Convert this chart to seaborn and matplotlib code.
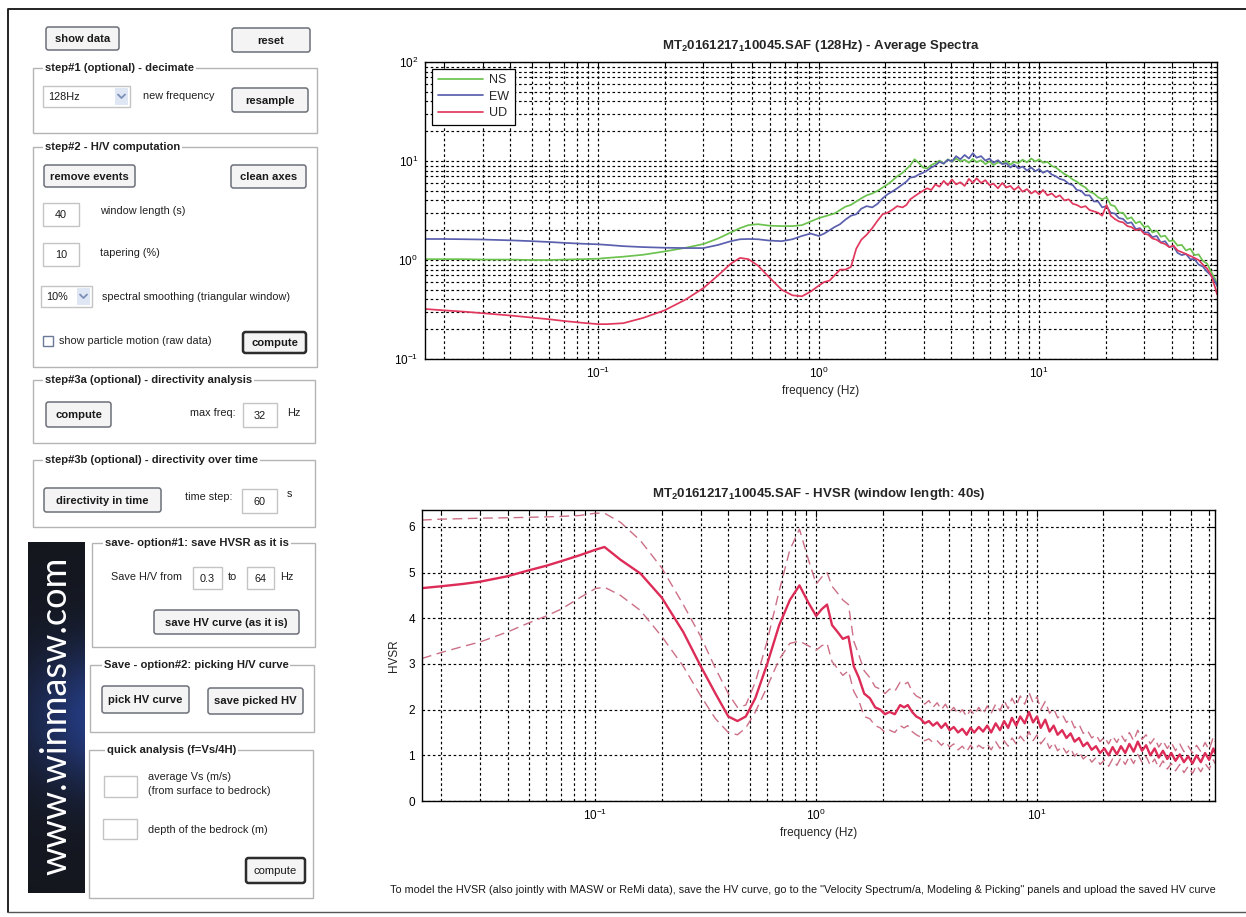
import numpy as np
import pandas as pd
import matplotlib
matplotlib.use("Agg")
import matplotlib.pyplot as plt
import seaborn as sns
from matplotlib import font_manager
from matplotlib.patches import Rectangle, FancyBboxPatch
from matplotlib.ticker import LogLocator, NullFormatter, FixedLocator

# ---------------------------------------------------------------- data
FREQ = (
    [0.0164, 0.02, 0.025, 0.03, 0.04, 0.05, 0.06, 0.07, 0.085, 0.1,
     0.11, 0.13, 0.16, 0.2, 0.25, 0.3, 0.35, 0.4, 0.44, 0.48,
     0.53, 0.6, 0.68, 0.76, 0.84, 0.92, 1.0]
    + [1.06, 1.12, 1.18, 1.25, 1.32, 1.4, 1.48, 1.56, 1.65, 1.75,
       1.85, 1.95, 2.05, 2.15, 2.27, 2.4]
    + [2.5, 2.6, 2.72, 2.84, 2.97, 3.1, 3.24, 3.38, 3.53, 3.69,
       3.85, 4.02, 4.2, 4.39, 4.59, 4.8, 5.0, 5.2, 5.45, 5.7,
       5.95, 6.2, 6.5, 6.8, 7.1, 7.4, 7.7, 8.05, 8.4, 8.8,
       9.2, 9.6, 10.0, 10.4, 10.9, 11.4, 11.9, 12.4, 13.0, 13.6,
       14.2, 14.8, 15.5, 16.2, 16.9, 17.7, 18.5, 19.3, 20.2, 21.1,
       22.0, 23.0, 24.0, 25.1, 26.2, 27.4, 28.6, 29.9, 31.2, 32.6,
       34.1, 35.6, 37.2, 38.9, 40.6, 42.4, 44.3, 46.3, 48.4, 50.6,
       52.8, 55.2, 57.7, 60.2, 62.9, 64.0]
)

# average amplitude spectra of the three components
SPEC_NS = (
    [1.02, 1.02, 1.02, 1.01, 1.01, 1.0, 1.0, 1.01, 1.02, 1.03,
     1.05, 1.08, 1.13, 1.22, 1.33, 1.45, 1.65, 1.9, 2.1, 2.25,
     2.3, 2.22, 2.2, 2.2, 2.25, 2.45, 2.65]
    + [2.75, 2.85, 2.95, 3.2, 3.45, 3.6, 3.9, 4.2, 4.5, 4.7,
       5.0, 5.4, 5.8, 6.3, 7.0, 7.6]
    + [8.3, 9.0, 10.4, 9.6, 8.6, 8.4, 9.1, 9.5, 10.1, 9.4,
       10.4, 9.8, 10.6, 9.9, 10.3, 9.6, 10.5, 9.7, 10.2, 9.3,
       9.9, 9.1, 9.7, 9.4, 10.0, 9.2, 9.8, 9.5, 10.3, 9.7,
       10.6, 9.9, 10.4, 9.6, 9.8, 8.9, 8.6, 8.0, 7.4, 7.0,
       6.5, 6.2, 5.7, 5.4, 4.9, 4.7, 4.3, 4.1, 4.3, 3.6,
       3.5, 3.0, 3.0, 2.6, 2.7, 2.35, 2.45, 2.15, 2.2, 1.9,
       1.98, 1.72, 1.76, 1.55, 1.58, 1.4, 1.42, 1.25, 1.3, 1.12,
       1.14, 0.98, 0.92, 0.76, 0.64, 0.55]
)
SPEC_EW = (
    [1.63, 1.63, 1.62, 1.61, 1.58, 1.55, 1.52, 1.49, 1.46, 1.44,
     1.42, 1.38, 1.35, 1.33, 1.32, 1.32, 1.42, 1.55, 1.62, 1.63,
     1.62, 1.57, 1.55, 1.62, 1.75, 1.85, 1.75]
    + [1.85, 2.0, 2.15, 2.3, 2.55, 2.8, 2.9, 3.3, 3.5, 3.4,
       3.7, 4.2, 4.6, 4.9, 5.3, 5.8]
    + [6.2, 6.8, 6.9, 7.3, 7.6, 8.0, 8.6, 9.0, 9.8, 9.4,
       10.3, 9.9, 11.2, 10.4, 11.5, 10.6, 12.0, 10.8, 11.2, 10.1,
       10.6, 9.6, 10.2, 9.3, 9.5, 8.6, 9.2, 8.4, 8.8, 8.0,
       8.6, 7.9, 8.3, 7.6, 8.0, 7.3, 7.0, 6.6, 6.4, 5.9,
       5.7, 5.1, 5.0, 4.5, 4.5, 3.9, 3.9, 3.4, 3.5, 3.0,
       2.95, 2.65, 2.6, 2.35, 2.4, 2.05, 2.1, 1.9, 1.9, 1.7,
       1.75, 1.5, 1.55, 1.35, 1.38, 1.18, 1.12, 1.15, 1.02, 1.02,
       0.9, 0.86, 0.76, 0.7, 0.6, 0.55]
)
SPEC_UD = (
    [0.32, 0.31, 0.3, 0.29, 0.275, 0.262, 0.252, 0.242, 0.232, 0.225,
     0.225, 0.23, 0.26, 0.31, 0.4, 0.52, 0.7, 0.92, 1.05, 1.02,
     0.88, 0.66, 0.5, 0.44, 0.43, 0.48, 0.55]
    + [0.6, 0.62, 0.7, 0.8, 0.8, 0.85, 1.3, 1.6, 1.8, 2.1,
       2.5, 2.9, 3.0, 3.2, 3.5, 3.4]
    + [3.6, 4.1, 4.4, 4.7, 5.0, 5.3, 5.1, 5.8, 5.5, 6.3,
       5.7, 6.5, 5.8, 6.1, 5.6, 6.6, 6.0, 6.7, 6.0, 6.4,
       5.7, 5.9, 5.3, 6.0, 5.4, 5.6, 5.1, 5.5, 4.9, 5.2,
       4.7, 5.0, 4.6, 5.1, 4.5, 4.7, 4.3, 4.5, 4.0, 4.1,
       3.7, 3.6, 3.4, 3.5, 3.2, 3.1, 3.0, 2.8, 3.6, 2.8,
       2.6, 2.45, 2.4, 2.2, 2.15, 2.0, 2.05, 1.85, 1.8, 1.65,
       1.6, 1.5, 1.45, 1.35, 1.4, 1.25, 1.2, 1.15, 1.1, 1.05,
       1.0, 0.9, 0.82, 0.7, 0.52, 0.45]
)

# H/V spectral ratio and its +/- one standard deviation bounds
HVSR_MEAN = (
    [4.66, 4.7, 4.75, 4.8, 4.92, 5.05, 5.15, 5.25, 5.38, 5.5,
     5.56, 5.28, 4.98, 4.45, 3.7, 2.95, 2.35, 1.85, 1.75, 1.85,
     2.25, 3.0, 3.85, 4.4, 4.72, 4.35, 4.05]
    + [4.2, 4.3, 3.85, 3.7, 3.55, 3.6, 2.95, 2.7, 2.35, 2.25,
       2.05, 2.0, 1.9, 1.95, 1.9, 2.1]
    + [2.05, 2.1, 1.95, 1.85, 1.8, 1.7, 1.75, 1.65, 1.72, 1.6,
       1.7, 1.55, 1.62, 1.5, 1.58, 1.45, 1.6, 1.5, 1.62, 1.52,
       1.65, 1.5, 1.7, 1.55, 1.75, 1.6, 1.82, 1.65, 1.85, 1.7,
       1.95, 1.72, 1.85, 1.6, 1.78, 1.52, 1.65, 1.45, 1.55, 1.38,
       1.48, 1.3, 1.38, 1.2, 1.28, 1.12, 1.2, 1.05, 1.15, 1.0,
       1.18, 1.02, 1.2, 1.05, 1.25, 1.08, 1.3, 1.1, 1.22, 1.0,
       1.15, 0.95, 1.1, 0.92, 1.05, 0.88, 1.02, 0.85, 0.98, 0.82,
       1.0, 0.85, 1.05, 0.9, 1.15, 1.05]
)
HVSR_UPPER = (
    [6.15, 6.17, 6.18, 6.19, 6.2, 6.21, 6.22, 6.23, 6.25, 6.3,
     6.3, 6.1, 5.7, 5.1, 4.3, 3.6, 2.9, 2.35, 2.05, 2.1,
     2.6, 3.5, 4.6, 5.5, 5.95, 5.3, 4.75]
    + [4.9, 5.0, 4.7, 4.55, 4.4, 4.3, 3.5, 3.2, 2.85, 2.7,
       2.5, 2.45, 2.35, 2.45, 2.4, 2.6]
    + [2.55, 2.6, 2.4, 2.3, 2.25, 2.12, 2.2, 2.05, 2.15, 2.0,
       2.12, 1.95, 2.05, 1.9, 2.0, 1.85, 2.0, 1.88, 2.05, 1.9,
       2.08, 1.92, 2.12, 1.98, 2.2, 2.02, 2.25, 2.08, 2.3, 2.12,
       2.38, 2.15, 2.28, 2.0, 2.18, 1.92, 2.02, 1.82, 1.9, 1.72,
       1.8, 1.6, 1.68, 1.48, 1.55, 1.38, 1.45, 1.3, 1.4, 1.25,
       1.42, 1.28, 1.45, 1.3, 1.5, 1.32, 1.55, 1.35, 1.45, 1.25,
       1.38, 1.18, 1.32, 1.15, 1.28, 1.1, 1.25, 1.08, 1.2, 1.05,
       1.22, 1.08, 1.28, 1.12, 1.4, 1.3]
)
HVSR_LOWER = (
    [3.12, 3.25, 3.38, 3.48, 3.7, 3.9, 4.05, 4.2, 4.45, 4.65,
     4.68, 4.5, 4.17, 3.6, 2.95, 2.3, 1.8, 1.5, 1.45, 1.6,
     1.95, 2.5, 3.1, 3.45, 3.5, 3.4, 3.3]
    + [3.4, 3.45, 3.05, 2.9, 2.75, 2.85, 2.4, 2.2, 1.85, 1.8,
       1.65, 1.6, 1.5, 1.55, 1.5, 1.65]
    + [1.6, 1.65, 1.52, 1.45, 1.4, 1.32, 1.36, 1.28, 1.32, 1.22,
       1.3, 1.18, 1.25, 1.12, 1.2, 1.08, 1.22, 1.12, 1.22, 1.15,
       1.25, 1.12, 1.3, 1.15, 1.32, 1.2, 1.38, 1.25, 1.42, 1.3,
       1.52, 1.32, 1.45, 1.25, 1.38, 1.15, 1.28, 1.1, 1.2, 1.05,
       1.15, 0.98, 1.08, 0.92, 1.0, 0.85, 0.95, 0.8, 0.9, 0.76,
       0.92, 0.78, 0.95, 0.8, 0.98, 0.82, 1.02, 0.85, 0.98, 0.78,
       0.92, 0.72, 0.88, 0.7, 0.82, 0.66, 0.8, 0.62, 0.76, 0.6,
       0.78, 0.64, 0.82, 0.7, 0.9, 0.82]
)

COMPONENTS = ["NS", "EW", "UD"]
SPEC_TITLE = r"MT$_\mathbf{2}$0161217$_\mathbf{1}$10045.SAF (128Hz) - Average Spectra"
HV_TITLE = r"MT$_\mathbf{2}$0161217$_\mathbf{1}$10045.SAF - HVSR (window length: 40s)"
NOTE = ('To model the HVSR (also jointly with MASW or ReMi data), save the HV curve, '
        'go to the "Velocity Spectrum/a, Modeling & Picking" panels and upload the saved HV curve')

# ---------------------------------------------------------------- style
sns.set_theme(style="white")
available = {f.name for f in font_manager.fontManager.ttflist}


def pick(*names):
    for n in names:
        if n in available:
            return n
    return "DejaVu Sans"


NARROW = pick("Liberation Sans Narrow", "Liberation Sans")
SANS = pick("Liberation Sans", "Arimo", "DejaVu Sans")
plt.rcParams["font.family"] = [SANS, "DejaVu Sans"]
plt.rcParams["mathtext.fontset"] = "custom"
plt.rcParams["mathtext.rm"] = NARROW
plt.rcParams["mathtext.bf"] = NARROW + ":bold"
plt.rcParams["axes.unicode_minus"] = False

W, H = 1246, 917
fig = plt.figure(figsize=(W / 100, H / 100), dpi=100)
fig.patch.set_facecolor("white")


def px_axes(x0, y0, x1, y1):
    return fig.add_axes([x0 / W, 1 - y1 / H, (x1 - x0) / W, (y1 - y0) / H])


# ---------------------------------------------------------------- control panel
ui = fig.add_axes([0, 0, 1, 1], zorder=0)
ui.set_xlim(0, W)
ui.set_ylim(H, 0)
ui.axis("off")

LBL = 7.8
BTN = 8.1


def group(x0, y0, x1, y1, title, tx=None):
    ui.add_patch(Rectangle((x0, y0), x1 - x0, y1 - y0, fill=False, ec="#b4b4b4", lw=1.0))
    ui.text(x0 + 12 if tx is None else tx, y0, title, ha="left", va="center",
            fontsize=BTN, fontweight="bold", color="#202020",
            bbox=dict(fc="white", ec="none", pad=1.2))


def button(x0, y0, x1, y1, label, default=False, bold=True):
    ui.add_patch(FancyBboxPatch((x0, y0), x1 - x0, y1 - y0,
                                boxstyle="round,pad=0,rounding_size=2.5",
                                fc="#f4f4f4", ec="#2c2c2c" if default else "#6c6f78",
                                lw=1.8 if default else 1.1))
    ui.text((x0 + x1) / 2, (y0 + y1) / 2 + 0.5, label, ha="center", va="center",
            fontsize=BTN, fontweight="bold" if bold else "normal", color="#1a1a1a")


def editbox(x0, y0, x1, y1, label=""):
    ui.add_patch(Rectangle((x0, y0), x1 - x0, y1 - y0, fc="white", ec="#c4c4c4", lw=1.0))
    if label:
        ui.text((x0 + x1) / 2, (y0 + y1) / 2 + 1, label, ha="center", va="center",
                fontsize=LBL, color="#1a1a1a")


def dropdown(x0, y0, x1, y1, label):
    ui.add_patch(Rectangle((x0, y0), x1 - x0, y1 - y0, fc="white", ec="#c4c4c4", lw=1.0))
    ui.add_patch(Rectangle((x1 - 15, y0 + 2), 13, y1 - y0 - 4, fc="#dfe7f5", ec="none"))
    cx, cy = x1 - 8.5, (y0 + y1) / 2
    ui.plot([cx - 3.5, cx, cx + 3.5], [cy - 2, cy + 1.5, cy - 2], color="#7b8fb8", lw=1.3)
    ui.text(x0 + 5, cy + 1, label, ha="left", va="center", fontsize=LBL, color="#1a1a1a")


def label(x, y, s):
    ui.text(x, y, s, ha="left", va="center", fontsize=LBL, color="#202020")


button(46, 27, 119, 50, "show data")
button(232, 28, 310, 52, "reset")

group(33, 68, 317, 133, "step#1 (optional) - decimate")
dropdown(43, 86, 130, 107, "128Hz")
label(143, 96, "new frequency")
button(232, 88, 308, 112, "resample")

group(33, 147, 317, 367, "step#2 - H/V computation")
button(44, 165, 135, 187, "remove events")
button(231, 165, 306, 188, "clean axes")
editbox(43, 203, 79, 226, "40")
label(100, 211, "window length (s)")
editbox(43, 243, 79, 266, "10")
label(100, 253, "tapering (%)")
dropdown(41, 286, 92, 307, "10%")
label(102, 297, "spectral smoothing (triangular window)")
ui.add_patch(Rectangle((43, 336), 10, 10, fc="white", ec="#6a7a96", lw=1.0))
label(59, 341, "show particle motion (raw data)")
button(243, 332, 306, 353, "compute", default=True)

group(33, 380, 315, 443, "step#3a (optional) - directivity analysis")
button(46, 402, 111, 427, "compute")
label(190, 413, "max freq:")
editbox(243, 403, 277, 427, "32")
label(287, 413, "Hz")

group(33, 460, 315, 527, "step#3b (optional) - directivity over time")
button(44, 488, 161, 512, "directivity in time")
label(185, 497, "time step:")
editbox(242, 489, 277, 513, "60")
label(287, 494, "s")

group(92, 543, 315, 647, "save- option#1: save HVSR as it is", tx=105)
label(111, 577, "Save H/V from")
editbox(193, 567, 222, 589, "0.3")
label(228, 577, "to")
editbox(247, 567, 274, 589, "64")
label(280, 577, "Hz")
button(154, 610, 299, 634, "save HV curve (as it is)")

group(90, 665, 314, 732, "Save - option#2: picking H/V curve", tx=104)
button(102, 686, 189, 713, "pick HV curve")
button(208, 688, 303, 714, "save picked HV")

group(89, 750, 313, 898, "quick analysis (f=Vs/4H)", tx=107)
editbox(104, 776, 137, 797)
label(148, 777, "average Vs (m/s)")
label(148, 791, "(from surface to bedrock)")
editbox(103, 819, 137, 839)
label(148, 830, "depth of the bedrock (m)")
button(246, 858, 305, 883, "compute", default=True, bold=False)

# vertical banner with the web address
ys = np.linspace(0, 1, 200)[:, None]
xs = np.linspace(0, 1, 40)[None, :]
glow = np.exp(-((ys - 0.5) / 0.2) ** 2) * (0.4 + 0.6 * xs)
banner = np.dstack([0.08 + 0.06 * glow, 0.09 + 0.14 * glow, 0.12 + 0.38 * glow])
ui.imshow(banner, extent=(28, 85, 893, 542), aspect="auto", zorder=1)
ui.text(56, 716, "www.winmasw.com", rotation=90, ha="center", va="center",
        fontsize=26, color="white", family=pick("Lato", "Open Sans", "DejaVu Sans"),
        fontweight="normal", zorder=2)

ui.text(390, 890, NOTE, ha="left", va="center", fontsize=7.8, family=NARROW, color="#1a1a1a")

# page frame
ui.plot([8, 8, 1246], [912, 9, 9], color="#222222", lw=1.4, zorder=3)
ui.plot([8, 1246], [912, 912], color="#555555", lw=1.0, zorder=3)

# ---------------------------------------------------------------- shared axis styling
GRID = dict(color="black", linestyle=(0, (2.2, 2.2)), linewidth=0.85)


def style_axes(ax):
    ax.set_xscale("log")
    ax.set_xlim(0.0164, 64)
    ax.xaxis.set_major_locator(LogLocator(base=10, numticks=20))
    ax.xaxis.set_minor_locator(LogLocator(base=10, subs=np.arange(2, 10), numticks=100))
    ax.xaxis.set_minor_formatter(NullFormatter())
    ax.tick_params(which="both", direction="in", top=True, right=True,
                   labelsize=8.5, colors="black", pad=5)
    ax.tick_params(which="major", length=5, width=0.8)
    ax.tick_params(which="minor", length=3, width=0.8)
    for sp in ax.spines.values():
        sp.set_color("black")
        sp.set_linewidth(1.0)
    ax.set_xlabel("frequency (Hz)", fontsize=8.5, family=NARROW, labelpad=3)


# ---------------------------------------------------------------- average spectra
spec = pd.DataFrame({"freq": FREQ * 3,
                     "amp": SPEC_NS + SPEC_EW + SPEC_UD,
                     "comp": [c for c in COMPONENTS for _ in FREQ]})
palette = {"NS": "#6cc24f", "EW": "#5a5fae", "UD": "#e2385e"}

ax1 = px_axes(425, 62, 1217, 359)
ax1.set_zorder(2)
sns.lineplot(data=spec, x="freq", y="amp", hue="comp", palette=palette,
             hue_order=COMPONENTS, ax=ax1, linewidth=1.25, sort=False, estimator=None)
style_axes(ax1)
ax1.set_yscale("log")
ax1.set_ylim(0.1, 100)
ax1.yaxis.set_minor_locator(LogLocator(base=10, subs=np.arange(2, 10), numticks=100))
ax1.yaxis.set_minor_formatter(NullFormatter())
ax1.grid(True, which="both", axis="both", **GRID)
ax1.set_ylabel("")
ax1.set_title(SPEC_TITLE, fontsize=9.5, fontweight="bold", family=NARROW, pad=9)
leg = ax1.legend(loc="upper left", bbox_to_anchor=(0.009, 0.977), borderaxespad=0,
                 fancybox=False, framealpha=1, edgecolor="black", handlelength=3.6,
                 handletextpad=0.5, borderpad=0.45, labelspacing=0.35,
                 prop={"family": NARROW, "size": 9})
leg.get_frame().set_linewidth(0.9)

# ---------------------------------------------------------------- HVSR
hv = pd.DataFrame({"freq": FREQ, "mean": HVSR_MEAN, "upper": HVSR_UPPER, "lower": HVSR_LOWER})

ax2 = px_axes(422, 510, 1215, 801)
ax2.set_zorder(2)
for col in ["upper", "lower"]:
    sns.lineplot(data=hv, x="freq", y=col, ax=ax2, color="#cc6f86", linewidth=1.0,
                 linestyle=(0, (7, 4)), sort=False, estimator=None)
sns.lineplot(data=hv, x="freq", y="mean", ax=ax2, color="#dc2c57", linewidth=1.7,
             sort=False, estimator=None)
style_axes(ax2)
ax2.set_ylim(0, 6.37)
ax2.yaxis.set_major_locator(FixedLocator([0, 1, 2, 3, 4, 5, 6]))
ax2.grid(True, which="both", axis="x", **GRID)
ax2.grid(True, which="major", axis="y", **GRID)
ax2.set_ylabel("HVSR", fontsize=8.5, family=NARROW, labelpad=6)
ax2.set_title(HV_TITLE, fontsize=9.5, fontweight="bold", family=NARROW, pad=9)

for ax in (ax1, ax2):
    for t in ax.get_xticklabels() + ax.get_yticklabels():
        t.set_family(NARROW)

fig.savefig("out.png", dpi=100, facecolor="white")
